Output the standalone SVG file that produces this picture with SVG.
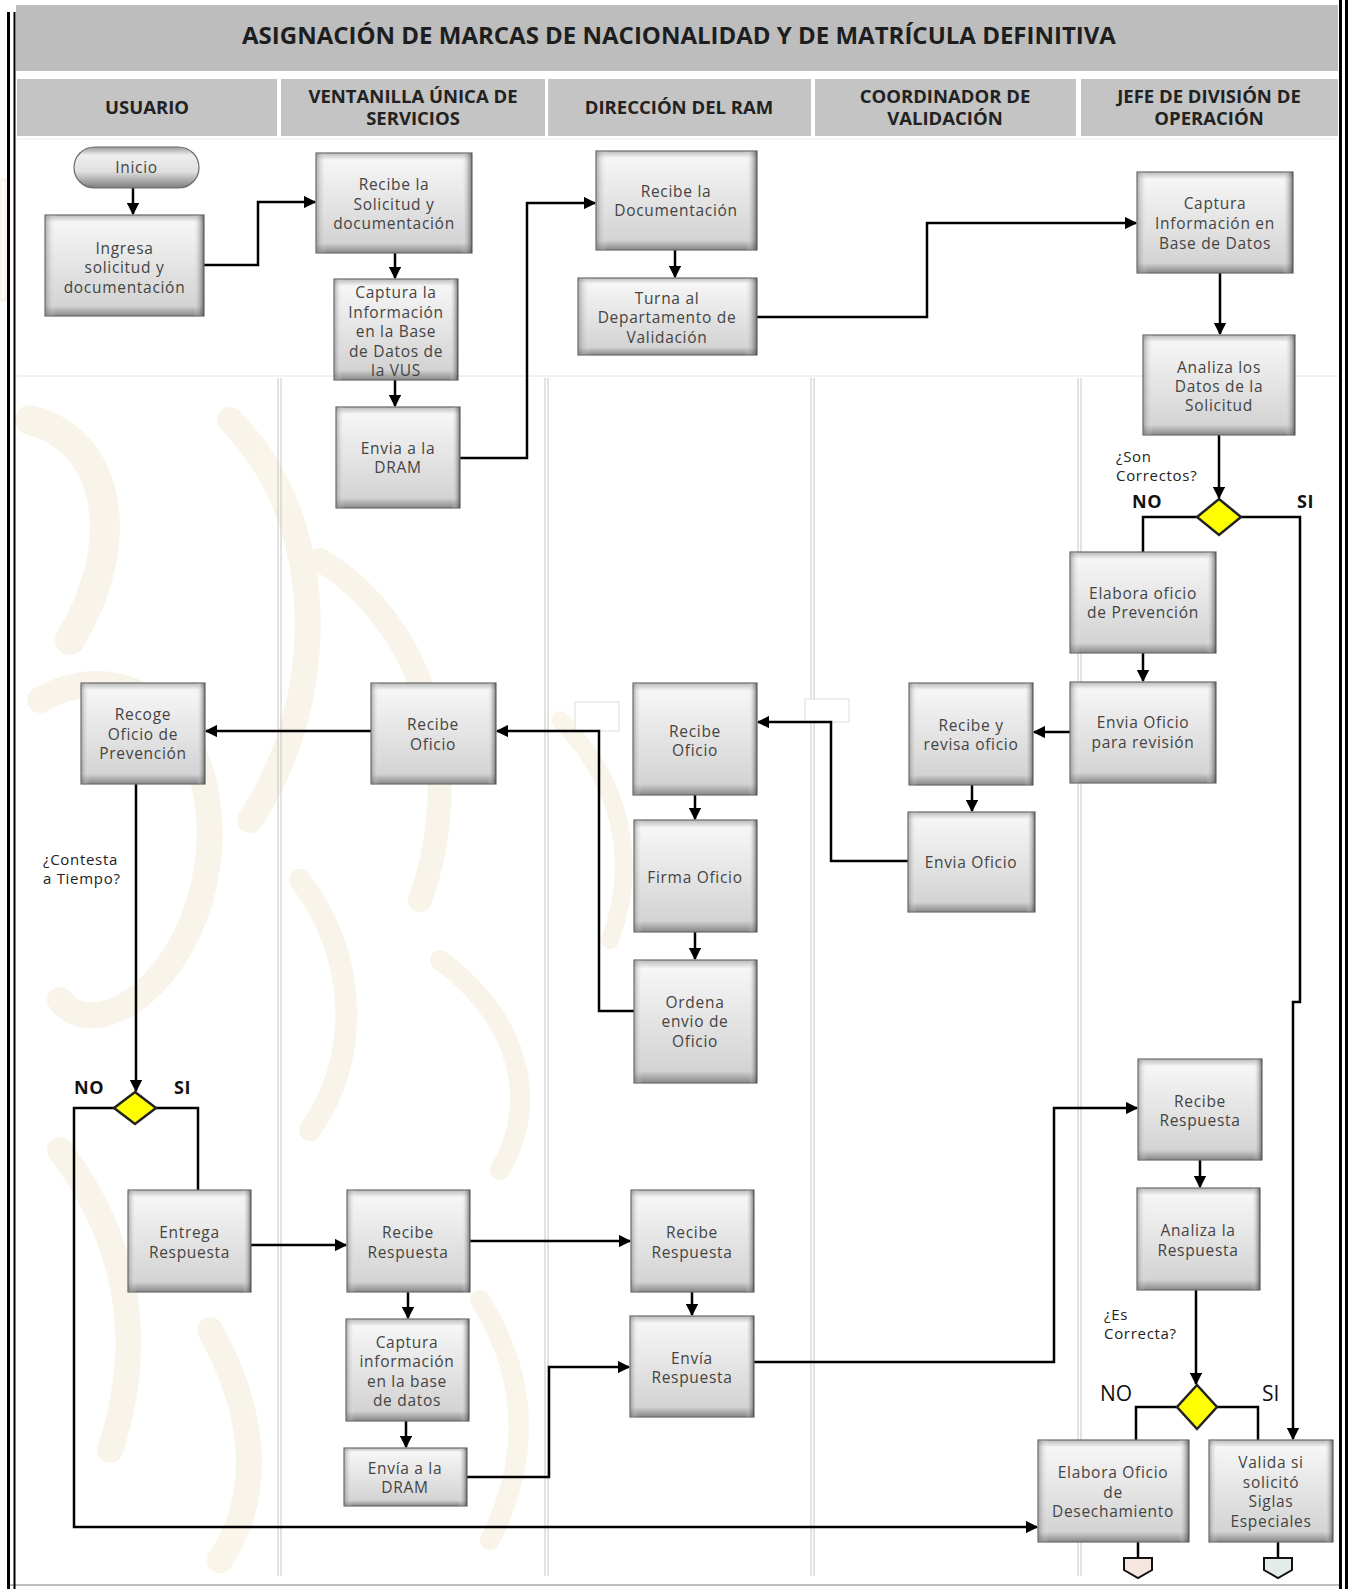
<svg xmlns="http://www.w3.org/2000/svg" width="1350" height="1589" viewBox="0 0 1350 1589">
  <defs>
    <linearGradient id="bevV" x1="0" y1="0" x2="0" y2="1">
      <stop offset="0" stop-color="#b9b9b9"/>
      <stop offset="0.07" stop-color="#f6f6f6"/>
      <stop offset="0.5" stop-color="#e4e4e4"/>
      <stop offset="0.9" stop-color="#d3d3d3"/>
      <stop offset="1" stop-color="#878787"/>
    </linearGradient>
    <linearGradient id="bevH" x1="0" y1="0" x2="1" y2="0">
      <stop offset="0" stop-color="#707070" stop-opacity="0.55"/>
      <stop offset="0.07" stop-color="#ffffff" stop-opacity="0"/>
      <stop offset="0.93" stop-color="#ffffff" stop-opacity="0"/>
      <stop offset="1" stop-color="#404040" stop-opacity="0.7"/>
    </linearGradient>
    <linearGradient id="pill" x1="0" y1="0" x2="0" y2="1">
      <stop offset="0" stop-color="#9a9a9a"/>
      <stop offset="0.2" stop-color="#eeeeee"/>
      <stop offset="0.6" stop-color="#e0e0e0"/>
      <stop offset="1" stop-color="#7c7c7c"/>
    </linearGradient>
    <marker id="arr" viewBox="0 0 10 10" refX="9" refY="5" markerWidth="5" markerHeight="5" orient="auto" markerUnits="strokeWidth">
      <path d="M0,0 L10,5 L0,10 z" fill="#000"/>
    </marker>
    <style>
      .box { fill: url(#bevV); stroke: #6a6a6a; stroke-width: 1.2; }
      .bev { fill: url(#bevH); stroke: none; }
      .t { font-family: "Open Sans", "Liberation Sans", sans-serif; font-size: 15.5px; fill: #444; text-anchor: middle; letter-spacing: 0.7px; }
      .hd { font-family: "Open Sans", "Liberation Sans", sans-serif; font-size: 18.5px; font-weight: 700; fill: #222; text-anchor: middle; }
      .title { font-family: "Open Sans", "Liberation Sans", sans-serif; font-size: 24px; font-weight: 700; fill: #1e1e1e; text-anchor: middle; }
      .q { font-family: "Open Sans", "Liberation Sans", sans-serif; font-size: 15px; fill: #222; letter-spacing: 0.7px; }
      .yn { font-family: "Open Sans", "Liberation Sans", sans-serif; font-size: 18px; font-weight: 700; fill: #111; letter-spacing: 0.5px; }
      .yn2 { font-family: "Open Sans", "Liberation Sans", sans-serif; font-size: 21px; fill: #111; }
      .cn { fill: none; stroke: #000; stroke-width: 2.5; stroke-linejoin: miter; }
      .ar { marker-end: url(#arr); }
      .dec { fill: #ffff00; stroke: #222; stroke-width: 2.5; }
      .lane { stroke: #c6c6c6; stroke-width: 1; fill: none; }
      .wm { fill: none; stroke: #f4ebd4; stroke-linecap: round; opacity: 0.5; }
    </style>
  </defs>

  <rect x="0" y="0" width="1350" height="1589" fill="#ffffff"/>

  <!-- faint ornamental background -->
  <g id="watermark" class="wm">
    <path d="M30,420 C110,440 130,540 70,640" stroke-width="30"/>
    <path d="M40,700 C150,640 240,760 200,900 C170,1000 90,1040 60,1000" stroke-width="26"/>
    <path d="M230,420 C330,520 330,700 250,820" stroke-width="26"/>
    <path d="M60,1150 C120,1230 150,1330 110,1450" stroke-width="26"/>
    <path d="M210,1330 C260,1420 260,1500 220,1560" stroke-width="26"/>
    <path d="M320,560 C420,620 470,760 420,900" stroke-width="24"/>
    <path d="M300,880 C360,960 360,1060 310,1130" stroke-width="22"/>
    <path d="M440,960 C520,1020 540,1100 500,1170" stroke-width="20"/>
    <path d="M480,1300 C530,1380 530,1460 490,1540" stroke-width="20"/>
    <path d="M560,720 C620,780 640,860 610,940" stroke-width="18"/>
    <path d="M0,180 L6,180 L6,300 L0,300 z" stroke-width="4"/>
  </g>

  <!-- frame, title and lane headers -->
  <g id="frame">
    <rect x="16" y="5" width="1322" height="66" fill="#bdbdbd"/>
    <text class="title" x="679" y="44">ASIGNACIÓN DE MARCAS DE NACIONALIDAD Y DE MATRÍCULA DEFINITIVA</text>

    <rect x="17" y="79" width="260" height="57" fill="#c4c4c4"/>
    <rect x="281" y="79" width="264" height="57" fill="#c4c4c4"/>
    <rect x="548" y="79" width="263" height="57" fill="#c4c4c4"/>
    <rect x="815" y="79" width="261" height="57" fill="#c4c4c4"/>
    <rect x="1081" y="79" width="257" height="57" fill="#c4c4c4"/>
    <text class="hd" x="147" y="114">USUARIO</text>
    <text class="hd" x="413" y="103">VENTANILLA ÚNICA DE</text>
    <text class="hd" x="413" y="125">SERVICIOS</text>
    <text class="hd" x="679" y="114">DIRECCIÓN DEL RAM</text>
    <text class="hd" x="945" y="103">COORDINADOR DE</text>
    <text class="hd" x="945" y="125">VALIDACIÓN</text>
    <text class="hd" x="1209" y="103">JEFE DE DIVISIÓN DE</text>
    <text class="hd" x="1209" y="125">OPERACIÓN</text>

    <line x1="17" y1="139" x2="1338" y2="139" stroke="#ececec" stroke-width="1"/>
    <line x1="17" y1="376" x2="1338" y2="376" stroke="#e2e2e2" stroke-width="1"/>

    <path class="lane" d="M278,378 V1576 M281,378 V1576"/>
    <path class="lane" d="M545,378 V1576 M548,378 V1576"/>
    <path class="lane" d="M811,378 V1576 M814,378 V1576"/>
    <path class="lane" d="M1078,378 V1576 M1081,378 V1576"/>

    <line x1="8" y1="1585" x2="1340" y2="1585" stroke="#bdbdbd" stroke-width="2"/>
    <line x1="8.5" y1="12" x2="8.5" y2="1589" stroke="#000" stroke-width="3"/>
    <line x1="14.5" y1="12" x2="14.5" y2="1589" stroke="#000" stroke-width="2"/>
    <line x1="1340.5" y1="0" x2="1340.5" y2="1589" stroke="#000" stroke-width="3"/>
    <line x1="1346.5" y1="0" x2="1346.5" y2="1589" stroke="#000" stroke-width="3"/>

    <rect x="575" y="702" width="44" height="29" fill="#ffffff" stroke="#dedede" stroke-width="1"/>
    <rect x="805" y="699" width="44" height="23" fill="#ffffff" stroke="#dedede" stroke-width="1"/>
  </g>

  <!-- connectors -->
  <g id="connectors">
    <path class="cn ar" d="M133,188 V214"/>
    <path class="cn ar" d="M204,265 H258 V202 H315"/>
    <path class="cn ar" d="M395,253 V278"/>
    <path class="cn ar" d="M395,380 V406"/>
    <path class="cn ar" d="M460,458 H527 V203 H595"/>
    <path class="cn ar" d="M675,250 V277"/>
    <path class="cn ar" d="M757,317 H927 V223 H1136"/>
    <path class="cn ar" d="M1220,273 V334"/>
    <path class="cn ar" d="M1219,435 V498"/>
    <path class="cn" d="M1197,517 H1143 V552"/>
    <path class="cn ar" d="M1143,653 V681"/>
    <path class="cn ar" d="M1070,732 H1034"/>
    <path class="cn ar" d="M972,785 V811"/>
    <path class="cn ar" d="M908,861 H831 V722 H758"/>
    <path class="cn ar" d="M695,795 V819"/>
    <path class="cn ar" d="M695,932 V959"/>
    <path class="cn ar" d="M634,1011 H599 V731 H497"/>
    <path class="cn ar" d="M371,731 H206"/>
    <path class="cn ar" d="M136,784 V1091"/>
    <path class="cn ar" d="M114,1108 H74 V1527 H1037"/>
    <path class="cn" d="M156,1108 H198 V1190"/>
    <path class="cn ar" d="M251,1245 H346"/>
    <path class="cn ar" d="M470,1241 H630"/>
    <path class="cn ar" d="M408,1292 V1318"/>
    <path class="cn ar" d="M406,1421 V1447"/>
    <path class="cn ar" d="M467,1477 H549 V1367 H629"/>
    <path class="cn ar" d="M692,1292 V1315"/>
    <path class="cn ar" d="M754,1362 H1054 V1108 H1137"/>
    <path class="cn ar" d="M1200,1160 V1187"/>
    <path class="cn ar" d="M1196,1290 V1384"/>
    <path class="cn" d="M1177,1407 H1136 V1440"/>
    <path class="cn" d="M1217,1407 H1258 V1440"/>
    <path class="cn ar" d="M1241,517 H1300 V1002 H1293 V1439"/>
    <path class="cn" d="M1138,1542 V1558"/>
    <path class="cn" d="M1278,1542 V1558"/>
  </g>

  <!-- process nodes -->
  <g id="nodes">
    <g id="inicio">
      <rect x="74" y="147" width="125" height="41" rx="20.5" fill="url(#pill)" stroke="#6a6a6a" stroke-width="1.2"/>
      <text class="t" x="136.5" y="173">Inicio</text>
    </g>
    <g id="ingresa">
      <rect class="box" x="45" y="215" width="159" height="101"/>
      <rect class="bev" x="45" y="215" width="159" height="101"/>
      <text class="t" x="124.5" y="254">Ingresa</text>
      <text class="t" x="124.5" y="273">solicitud y</text>
      <text class="t" x="124.5" y="293">documentación</text>
    </g>
    <g id="recibe-solicitud">
      <rect class="box" x="316" y="153" width="156" height="100"/>
      <rect class="bev" x="316" y="153" width="156" height="100"/>
      <text class="t" x="394" y="190">Recibe la</text>
      <text class="t" x="394" y="210">Solicitud y</text>
      <text class="t" x="394" y="229">documentación</text>
    </g>
    <g id="captura-vus">
      <rect class="box" x="334" y="279" width="124" height="101"/>
      <rect class="bev" x="334" y="279" width="124" height="101"/>
      <text class="t" x="396" y="298">Captura la</text>
      <text class="t" x="396" y="318">Información</text>
      <text class="t" x="396" y="337">en la Base</text>
      <text class="t" x="396" y="357">de Datos de</text>
      <text class="t" x="396" y="376">la VUS</text>
    </g>
    <g id="envia-dram">
      <rect class="box" x="336" y="407" width="124" height="101"/>
      <rect class="bev" x="336" y="407" width="124" height="101"/>
      <text class="t" x="398" y="454">Envia a la</text>
      <text class="t" x="398" y="473">DRAM</text>
    </g>
    <g id="recibe-documentacion">
      <rect class="box" x="596" y="151" width="161" height="99"/>
      <rect class="bev" x="596" y="151" width="161" height="99"/>
      <text class="t" x="676" y="197">Recibe la</text>
      <text class="t" x="676" y="216">Documentación</text>
    </g>
    <g id="turna">
      <rect class="box" x="578" y="278" width="179" height="77"/>
      <rect class="bev" x="578" y="278" width="179" height="77"/>
      <text class="t" x="667" y="304">Turna al</text>
      <text class="t" x="667" y="323">Departamento de</text>
      <text class="t" x="667" y="343">Validación</text>
    </g>
    <g id="captura-info">
      <rect class="box" x="1137" y="172" width="156" height="101"/>
      <rect class="bev" x="1137" y="172" width="156" height="101"/>
      <text class="t" x="1215" y="209">Captura</text>
      <text class="t" x="1215" y="229">Información en</text>
      <text class="t" x="1215" y="249">Base de Datos</text>
    </g>
    <g id="analiza-datos">
      <rect class="box" x="1143" y="335" width="152" height="100"/>
      <rect class="bev" x="1143" y="335" width="152" height="100"/>
      <text class="t" x="1219" y="373">Analiza los</text>
      <text class="t" x="1219" y="392">Datos de la</text>
      <text class="t" x="1219" y="411">Solicitud</text>
    </g>
    <g id="decision-correctos">
      <polygon class="dec" points="1219,499 1241,517 1219,535 1197,517"/>
    </g>
    <g id="elabora-prevencion">
      <rect class="box" x="1070" y="552" width="146" height="101"/>
      <rect class="bev" x="1070" y="552" width="146" height="101"/>
      <text class="t" x="1143" y="599">Elabora oficio</text>
      <text class="t" x="1143" y="618">de Prevención</text>
    </g>
    <g id="envia-revision">
      <rect class="box" x="1070" y="682" width="146" height="101"/>
      <rect class="bev" x="1070" y="682" width="146" height="101"/>
      <text class="t" x="1143" y="728">Envia Oficio</text>
      <text class="t" x="1143" y="748">para revisión</text>
    </g>
    <g id="recibe-revisa">
      <rect class="box" x="909" y="683" width="124" height="102"/>
      <rect class="bev" x="909" y="683" width="124" height="102"/>
      <text class="t" x="971" y="731">Recibe y</text>
      <text class="t" x="971" y="750">revisa oficio</text>
    </g>
    <g id="envia-oficio">
      <rect class="box" x="908" y="812" width="127" height="100"/>
      <rect class="bev" x="908" y="812" width="127" height="100"/>
      <text class="t" x="971" y="868">Envia Oficio</text>
    </g>
    <g id="recibe-oficio-dram">
      <rect class="box" x="633" y="683" width="124" height="112"/>
      <rect class="bev" x="633" y="683" width="124" height="112"/>
      <text class="t" x="695" y="737">Recibe</text>
      <text class="t" x="695" y="756">Oficio</text>
    </g>
    <g id="firma-oficio">
      <rect class="box" x="634" y="820" width="123" height="112"/>
      <rect class="bev" x="634" y="820" width="123" height="112"/>
      <text class="t" x="695" y="883">Firma Oficio</text>
    </g>
    <g id="ordena-envio">
      <rect class="box" x="634" y="960" width="123" height="123"/>
      <rect class="bev" x="634" y="960" width="123" height="123"/>
      <text class="t" x="695" y="1008">Ordena</text>
      <text class="t" x="695" y="1027">envio de</text>
      <text class="t" x="695" y="1047">Oficio</text>
    </g>
    <g id="recibe-oficio-vus">
      <rect class="box" x="371" y="683" width="125" height="101"/>
      <rect class="bev" x="371" y="683" width="125" height="101"/>
      <text class="t" x="433" y="730">Recibe</text>
      <text class="t" x="433" y="750">Oficio</text>
    </g>
    <g id="recoge-oficio">
      <rect class="box" x="81" y="683" width="124" height="101"/>
      <rect class="bev" x="81" y="683" width="124" height="101"/>
      <text class="t" x="143" y="720">Recoge</text>
      <text class="t" x="143" y="740">Oficio de</text>
      <text class="t" x="143" y="759">Prevención</text>
    </g>
    <g id="decision-tiempo">
      <polygon class="dec" points="135,1092 156,1108 135,1124 114,1108"/>
    </g>
    <g id="entrega-respuesta">
      <rect class="box" x="128" y="1190" width="123" height="102"/>
      <rect class="bev" x="128" y="1190" width="123" height="102"/>
      <text class="t" x="189.5" y="1238">Entrega</text>
      <text class="t" x="189.5" y="1258">Respuesta</text>
    </g>
    <g id="recibe-respuesta-vus">
      <rect class="box" x="347" y="1190" width="123" height="102"/>
      <rect class="bev" x="347" y="1190" width="123" height="102"/>
      <text class="t" x="408" y="1238">Recibe</text>
      <text class="t" x="408" y="1258">Respuesta</text>
    </g>
    <g id="captura-respuesta">
      <rect class="box" x="346" y="1319" width="123" height="102"/>
      <rect class="bev" x="346" y="1319" width="123" height="102"/>
      <text class="t" x="407" y="1348">Captura</text>
      <text class="t" x="407" y="1367">información</text>
      <text class="t" x="407" y="1387">en la base</text>
      <text class="t" x="407" y="1406">de datos</text>
    </g>
    <g id="envia-dram-2">
      <rect class="box" x="344" y="1448" width="123" height="58"/>
      <rect class="bev" x="344" y="1448" width="123" height="58"/>
      <text class="t" x="405" y="1474">Envía a la</text>
      <text class="t" x="405" y="1493">DRAM</text>
    </g>
    <g id="recibe-respuesta-dram">
      <rect class="box" x="631" y="1190" width="123" height="102"/>
      <rect class="bev" x="631" y="1190" width="123" height="102"/>
      <text class="t" x="692" y="1238">Recibe</text>
      <text class="t" x="692" y="1258">Respuesta</text>
    </g>
    <g id="envia-respuesta">
      <rect class="box" x="630" y="1316" width="124" height="101"/>
      <rect class="bev" x="630" y="1316" width="124" height="101"/>
      <text class="t" x="692" y="1364">Envía</text>
      <text class="t" x="692" y="1383">Respuesta</text>
    </g>
    <g id="recibe-respuesta-jefe">
      <rect class="box" x="1138" y="1059" width="124" height="101"/>
      <rect class="bev" x="1138" y="1059" width="124" height="101"/>
      <text class="t" x="1200" y="1107">Recibe</text>
      <text class="t" x="1200" y="1126">Respuesta</text>
    </g>
    <g id="analiza-respuesta">
      <rect class="box" x="1137" y="1188" width="123" height="102"/>
      <rect class="bev" x="1137" y="1188" width="123" height="102"/>
      <text class="t" x="1198" y="1236">Analiza la</text>
      <text class="t" x="1198" y="1256">Respuesta</text>
    </g>
    <g id="decision-correcta">
      <polygon class="dec" points="1197,1385 1217,1407 1197,1429 1177,1407"/>
    </g>
    <g id="elabora-desechamiento">
      <rect class="box" x="1038" y="1440" width="151" height="102"/>
      <rect class="bev" x="1038" y="1440" width="151" height="102"/>
      <text class="t" x="1113" y="1478">Elabora Oficio</text>
      <text class="t" x="1113" y="1498">de</text>
      <text class="t" x="1113" y="1517">Desechamiento</text>
    </g>
    <g id="valida-siglas">
      <rect class="box" x="1209" y="1440" width="124" height="102"/>
      <rect class="bev" x="1209" y="1440" width="124" height="102"/>
      <text class="t" x="1271" y="1468">Valida si</text>
      <text class="t" x="1271" y="1488">solicitó</text>
      <text class="t" x="1271" y="1507">Siglas</text>
      <text class="t" x="1271" y="1527">Especiales</text>
    </g>
    <g id="conector-no">
      <path d="M1124,1558 H1152 V1570 L1138,1578 L1124,1570 z" fill="#f6e6e0" stroke="#111" stroke-width="2"/>
    </g>
    <g id="conector-si">
      <path d="M1264,1558 H1292 V1570 L1278,1578 L1264,1570 z" fill="#e4ece7" stroke="#111" stroke-width="2"/>
    </g>
  </g>

  <!-- decision captions -->
  <g id="labels">
    <text class="q" x="1116" y="462">¿Son</text>
    <text class="q" x="1116" y="481">Correctos?</text>
    <text class="yn" x="1132" y="508">NO</text>
    <text class="yn" x="1297" y="508">SI</text>
    <text class="q" x="43" y="865">¿Contesta</text>
    <text class="q" x="43" y="884">a Tiempo?</text>
    <text class="yn" x="74" y="1094">NO</text>
    <text class="yn" x="174" y="1094">SI</text>
    <text class="q" x="1104" y="1320">¿Es</text>
    <text class="q" x="1104" y="1339">Correcta?</text>
    <text class="yn2" x="1100" y="1401">NO</text>
    <text class="yn2" x="1262" y="1401">SI</text>
  </g>
</svg>
